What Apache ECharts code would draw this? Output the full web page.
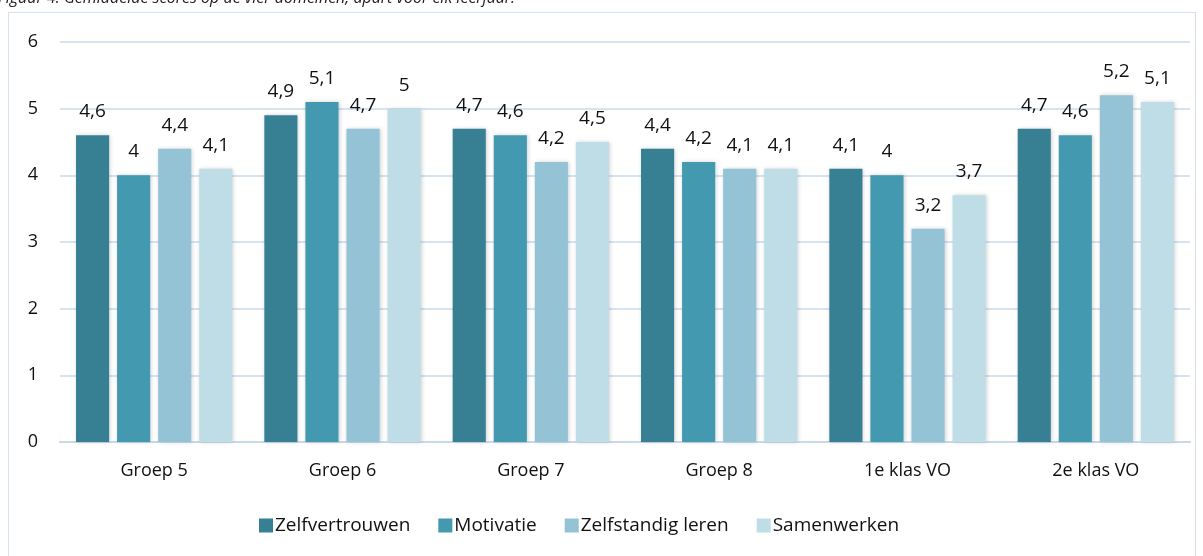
<!DOCTYPE html>
<html>
<head>
<meta charset="utf-8">
<script src="https://cdn.jsdelivr.net/npm/echarts@6/dist/echarts.min.js"></script>
<style>
  html, body { margin: 0; padding: 0; background: #fff; }
  #wrap { position: relative; width: 1203px; height: 556px; overflow: hidden; }
  #frame { position: absolute; left: 8px; top: 12px; width: 1186px; height: 560px; border: 1px solid #D5E1EF; }
  #main { position: absolute; left: 0; top: 0; width: 1203px; height: 556px; }
</style>
</head>
<body>
<div id="wrap">
  <div id="frame"></div>
  <div id="main"></div>
</div>
<script>
  // categorieën en gemiddelde scores
  const categories = ['Groep 5', 'Groep 6', 'Groep 7', 'Groep 8', '1e klas VO', '2e klas VO'];
  const zelfvertrouwen = [4.6, 4.9, 4.7, 4.4, 4.1, 4.7];
  const motivatie = [4.0, 5.1, 4.6, 4.2, 4.0, 4.6];
  const zelfstandigLeren = [4.4, 4.7, 4.2, 4.1, 3.2, 5.2];
  const samenwerken = [4.1, 5.0, 4.5, 4.1, 3.7, 5.1];
  const seriesNames = ['Zelfvertrouwen', 'Motivatie', 'Zelfstandig leren', 'Samenwerken'];
  const colors = ['#377F93', '#4299B0', '#93C3D5', '#BFDDE6'];

  const font = 'Open Sans';
  let chart = echarts.init(document.getElementById('main'));

  function makeSeries(name, data, color) {
    return {
      name: name,
      type: 'bar',
      data: data,
      barGap: '24%',
      barCategoryGap: '17%',
      itemStyle: {
        color: color,
        shadowColor: 'rgba(0,0,0,0.18)',
        shadowBlur: 4,
        shadowOffsetX: 1
      },
      label: {
        show: true,
        position: 'top',
        distance: 14,
        color: '#111',
        fontFamily: font,
        fontSize: 19,
        formatter: p => String(p.value).replace('.', ',')
      }
    };
  }

  let option = {
    animation: false,
    title: {
      text: 'Figuur 4. Gemiddelde scores op de vier domeinen, apart voor elk leerjaar.',
      left: -2,
      top: -10,
      padding: 0,
      textStyle: { fontFamily: font, fontSize: 16, fontStyle: 'italic', fontWeight: 'normal', color: '#222' }
    },
    color: colors,
    grid: { left: 60, right: 13, top: 42, bottom: 114 },
    legend: {
      data: seriesNames,
      bottom: 16,
      left: 254,
      icon: 'rect',
      itemWidth: 14,
      itemHeight: 14,
      itemGap: 28,
      textStyle: { fontFamily: font, fontSize: 19, color: '#111', padding: [0, 0, 0, -3] }
    },
    xAxis: {
      type: 'category',
      data: categories,
      axisLine: { lineStyle: { color: '#C9D9EC', width: 2 } },
      axisTick: { show: false },
      axisLabel: { fontFamily: font, fontSize: 18, color: '#111', margin: 20 }
    },
    yAxis: {
      type: 'value',
      min: 0,
      max: 6,
      interval: 1,
      axisLabel: { fontFamily: font, fontSize: 18, color: '#111', margin: 22 },
      splitLine: { lineStyle: { color: '#D6E3F2', width: 2 } }
    },
    series: [
      makeSeries(seriesNames[0], zelfvertrouwen, colors[0]),
      makeSeries(seriesNames[1], motivatie, colors[1]),
      makeSeries(seriesNames[2], zelfstandigLeren, colors[2]),
      makeSeries(seriesNames[3], samenwerken, colors[3])
    ]
  };
  chart.setOption(option);
</script>
</body>
</html>
